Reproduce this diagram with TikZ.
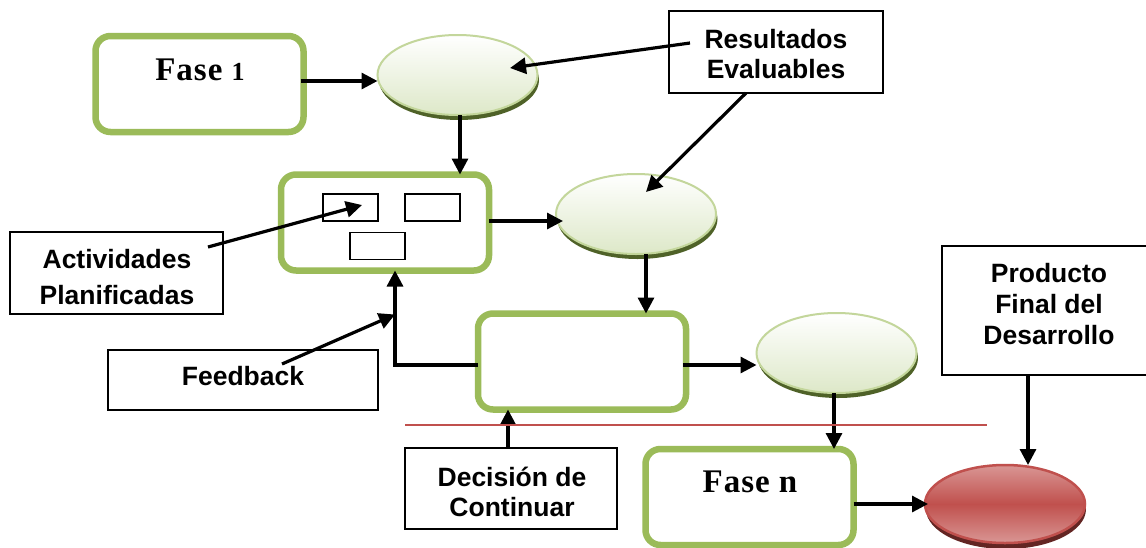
\documentclass[tikz,border=0pt]{standalone}
\usepackage{fontspec}
\setmainfont{Liberation Sans}
\newfontfamily\lmfont[LetterSpace=3]{Liberation Serif}
\usetikzlibrary{arrows.meta,calc,shapes.geometric}
\definecolor{gbord}{HTML}{9BBB59}
\definecolor{gedge}{HTML}{C3D69B}
\definecolor{gshad}{HTML}{4F6228}
\definecolor{gfill}{HTML}{DDE8C8}
\definecolor{redb}{HTML}{C0504D}
\definecolor{redl}{HTML}{D99694}
\definecolor{reds}{HTML}{632523}
\tikzset{
  x=1pt,y=-1pt,
  phase/.style={draw=gbord,line width=6.5pt,rounded corners=15pt,fill=white,minimum width=208pt,minimum height=96pt,outer sep=0pt,inner sep=0pt},
  txtbox/.style={draw=black,line width=1.4pt,fill=white,outer sep=0pt,inner sep=0pt},
  lbl/.style={font=\fontsize{26.5}{#1}\selectfont\bfseries,align=center,inner sep=0pt},
  mini/.style={draw=black,line width=1.4pt,fill=white,minimum width=55pt,minimum height=27pt,outer sep=0pt,inner sep=0pt},
  blob/.style={ellipse,draw=gedge,line width=2pt,top color=white,bottom color=gfill,minimum width=160pt,minimum height=80pt,outer sep=0pt,inner sep=0pt},
  redblob/.style={ellipse,draw=redb,line width=2.5pt,minimum width=160pt,minimum height=78pt,outer sep=0pt,inner sep=0pt,
    top color=redl,bottom color=redl,middle color=redb},
  shad/.style={ellipse,fill=#1,draw=none,minimum width=160pt,minimum height=80pt,inner sep=0pt},
  conn/.style={draw=black,line width=3.2pt,-{Triangle[length=16pt,width=16pt]}},
  phasetxt/.style={font=\lmfont\fontsize{33}{35}\selectfont\bfseries,inner sep=0pt},
}
\begin{document}
\begin{tikzpicture}
\useasboundingbox (0,0) rectangle (1146,547);
\fill[white] (0,0) rectangle (1146,547);
% phase boxes
\node[phase] (f1) at (199.5,84) {};
\node[phase] (b2) at (385,222.5) {};
\node[phase] (b3) at (582,361.5) {};
\node[phase] (fn) at (749.5,497) {};
\node[phasetxt] (f1t) at (200,70) {Fase {\fontsize{26}{28}\selectfont 1}};
\node[phasetxt] (fnt) at (750,482) {Fase n};
% ellipses
\node[shad=gshad] (e1s) at (459,80) {};
\node[blob] (e1) at (457.5,75) {};
\node[shad=gshad] (e2s) at (637.5,219) {};
\node[blob] (e2) at (636,214) {};
\node[shad=gshad] (e3s) at (838,358) {};
\node[blob] (e3) at (836.5,353) {};
\node[shad=reds] (rs) at (1006,509) {};
\node[redblob] (r) at (1005,504) {};
% inner rectangles
\node[mini] (m1) at (350.5,207.5) {};
\node[mini] (m2) at (432.5,207.5) {};
\node[mini] (m3) at (377.5,246) {};
% text boxes
\node[txtbox,minimum width=214pt,minimum height=82pt] (res) at (776,52) {};
\node[lbl=29.5] (rest) at (776,54) {Resultados\\Evaluables};
\node[txtbox,minimum width=213pt,minimum height=82pt] (act) at (116.5,273) {};
\node[lbl=36] (actt) at (117,277.5) {Actividades\\Planificadas};
\node[txtbox,minimum width=270pt,minimum height=60pt] (fb) at (243,380) {};
\node[lbl=30] (fbt) at (243,376.5) {Feedback};
\node[txtbox,minimum width=212pt,minimum height=81pt] (dec) at (511,488.5) {};
\node[lbl=30] (dect) at (512,491.5) {Decisión de\\Continuar};
\node[txtbox,minimum width=216pt,minimum height=129pt] (prod) at (1050,310.5) {};
\node[lbl=31] (prodt) at (1049,304.5) {Producto\\Final del\\Desarrollo};
% separator
\coordinate (sepa) at (405,425);
\coordinate (sepb) at (987,425);
% connectors
\draw[conn] ([xshift=-3pt,yshift=3pt]f1.east) -- ([yshift=-6pt]e1.west);
\draw[conn] (e1.south -| 460,0) -- (b2.north -| 460,0);
\draw[conn] ([xshift=21pt,yshift=9pt]res.west) -- ([xshift=-27.5pt,yshift=7pt]e1.east);
\draw[conn] ([xshift=-30pt]res.south) -- ([xshift=10pt,yshift=22pt]e2.center);
\draw[conn] ([yshift=1.5pt]b2.east) -- ([xshift=7pt,yshift=-7pt]e2.west);
\draw[conn] (e2.south -| 646,0) -- (b3.north -| 646,0);
\draw[conn] ([yshift=-3.5pt]b3.west) -| (b2.south -| 395,0);
\draw[conn] ([xshift=39pt,yshift=-14pt]fb.north) -- ([xshift=10pt,yshift=-44pt]b2.south);
\draw[conn] ([xshift=-3pt,yshift=-3.5pt]b3.east) -- ([yshift=-12pt]e3.west);
\draw[conn] (e3.south -| 834,0) -- (fn.north -| 834,0);
\draw[conn] (dec.north -| 508,0) -- (b3.south -| 508,0);
\draw[conn] (prod.south -| 1028,0) -- (r.north -| 1028,0);
\draw[conn] ([yshift=-7pt]fn.east) -- ([xshift=3pt]r.west);
\draw[conn] ([xshift=-15pt,yshift=26pt]act.east) -- ([xshift=11.5pt,yshift=2.5pt]m1.center);
\draw[draw=redb,line width=2.4pt] (sepa) -- (sepb);
\end{tikzpicture}
\end{document}
